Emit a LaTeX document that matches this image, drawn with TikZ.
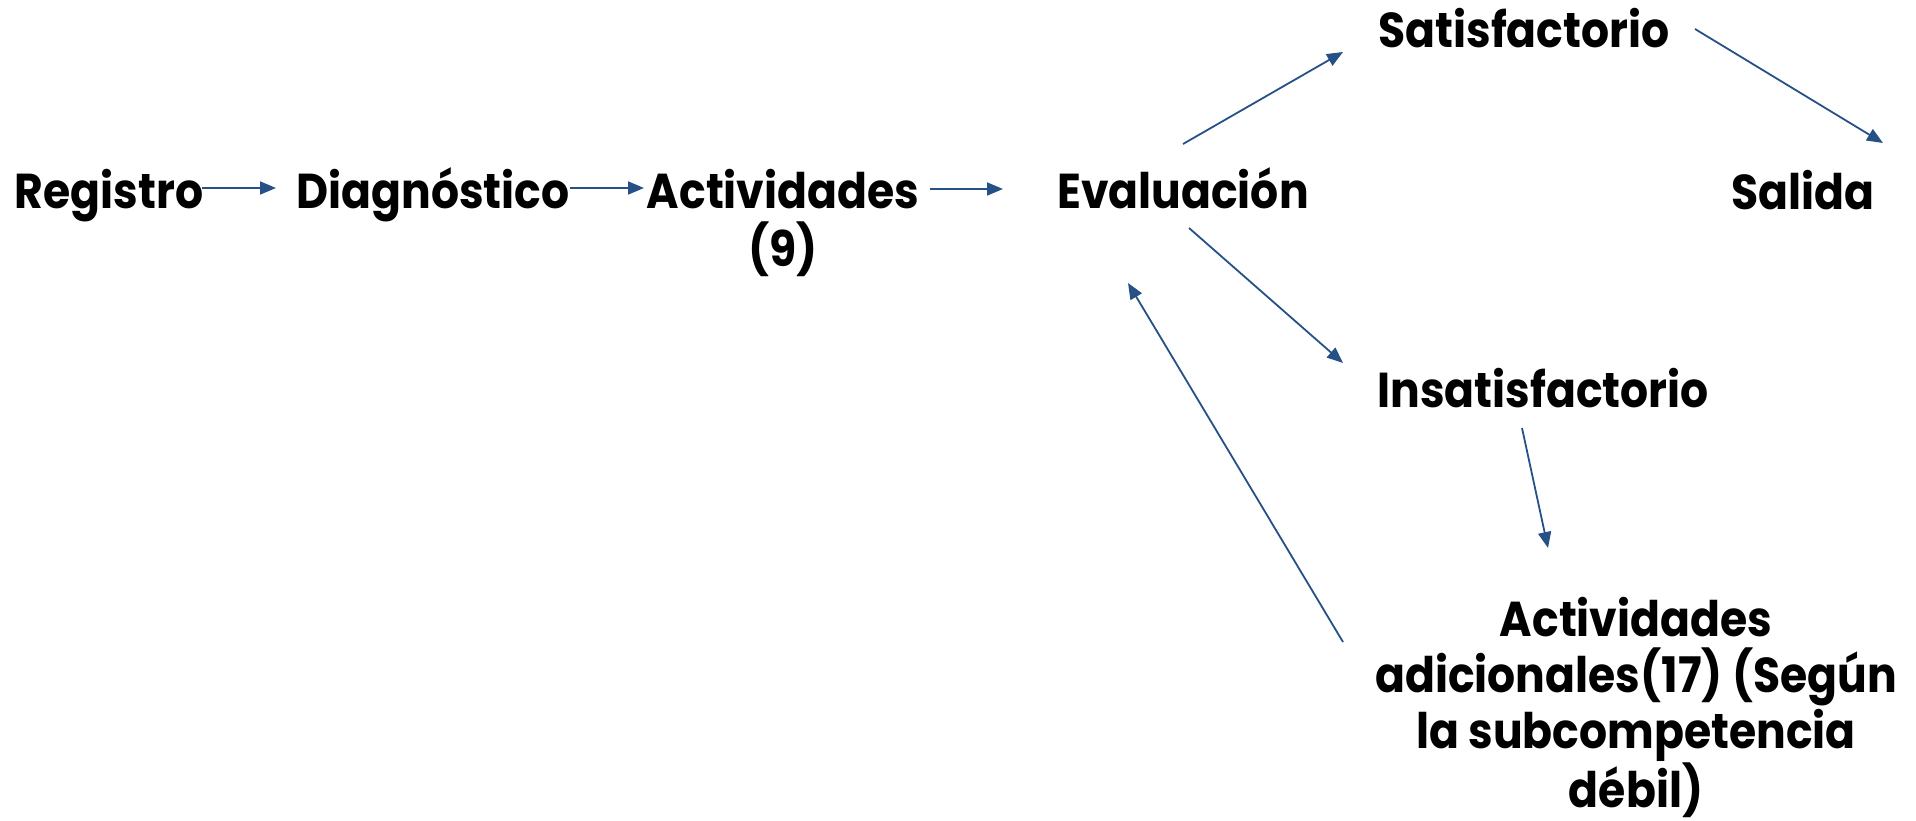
\documentclass[tikz,border=0pt]{standalone}
\usepackage{fontspec}
\setmainfont{Poppins}[BoldFont={Poppins Bold},FakeStretch=0.9]
\usetikzlibrary{arrows.meta}
\definecolor{arrblue}{RGB}{37,81,135}
\begin{document}
\begin{tikzpicture}[x=1pt,y=-1pt,
  lbl/.style={inner sep=0pt,anchor=base,align=center,font=\fontsize{49}{58}\selectfont\bfseries},
  arr/.style={draw=arrblue,line width=1.8pt,-{Triangle[length=16pt,width=13pt]}}]
\useasboundingbox (0,0) rectangle (1916,821);
\node[lbl] (reg) at (109,208) {Registro};
\node[lbl] (diag) at (433,208) {Diagnóstico};
\node[lbl] (act) at (783,266) {Actividades\\(9)};
\node[lbl] (eval) at (1183,208) {Evaluación};
\node[lbl] (sat) at (1524,48) {Satisfactorio};
\node[lbl] (sal) at (1803,209) {Salida};
\node[lbl] (insat) at (1543,407) {Insatisfactorio};
\node[lbl,font=\fontsize{49}{56}\selectfont\bfseries] (add) at (1636,807) {Actividades\\adicionales(17) (Según\\la subcompetencia\\débil)};
\coordinate (a1s) at (202,188); \coordinate (a1e) at (276,188);
\coordinate (a2s) at (570,188); \coordinate (a2e) at (644,188);
\coordinate (a3s) at (930,189); \coordinate (a3e) at (1003,189);
\coordinate (a4s) at (1183,144); \coordinate (a4e) at (1343,52);
\coordinate (a5s) at (1695,29); \coordinate (a5e) at (1883,143);
\coordinate (a6s) at (1189,228); \coordinate (a6e) at (1343,363);
\coordinate (a7s) at (1522,428); \coordinate (a7e) at (1548,548);
\coordinate (a8s) at (1343,642); \coordinate (a8e) at (1128,283);
\draw[arr] (a1s) -- (a1e);
\draw[arr] (a2s) -- (a2e);
\draw[arr] (a3s) -- (a3e);
\draw[arr] (a4s) -- (a4e);
\draw[arr] (a5s) -- (a5e);
\draw[arr] (a6s) -- (a6e);
\draw[arr] (a7s) -- (a7e);
\draw[arr] (a8s) -- (a8e);
\end{tikzpicture}
\end{document}
